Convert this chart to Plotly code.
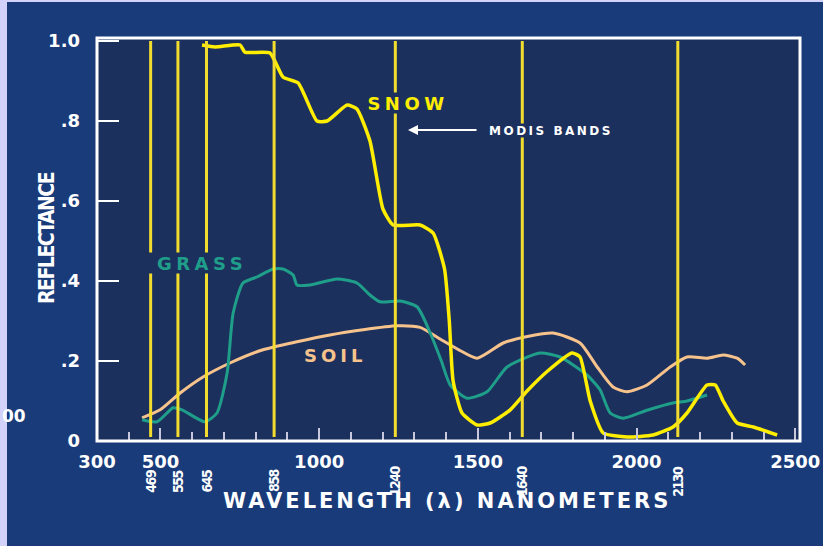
import plotly.graph_objects as go

# MODIS band centres (nm)
band_nm = [469, 555, 645, 858, 1240, 1640, 2130]
band_labels = ["469", "555", "645", "858", "1240", "1640", "2130"]

# Spectral reflectance curves
snow_nm = [631, 672, 751, 766, 845, 886, 934, 993, 1025, 1088, 1119, 1160, 1201, 1233,
           1318, 1359, 1395, 1410, 1422, 1450, 1498, 1539, 1602, 1655, 1720, 1797, 1822,
           1854, 1895, 1970, 2052, 2115, 2159, 2222, 2248, 2273, 2317, 2368, 2443]
snow_r = [0.99, 0.985, 0.99, 0.972, 0.97, 0.91, 0.895, 0.80, 0.80, 0.84, 0.83, 0.75, 0.58, 0.54,
          0.54, 0.52, 0.43, 0.30, 0.15, 0.07, 0.04, 0.045, 0.078, 0.125, 0.175, 0.22, 0.21,
          0.10, 0.02, 0.01, 0.015, 0.035, 0.07, 0.14, 0.14, 0.10, 0.045, 0.035, 0.015]

grass_nm = [442, 489, 540, 568, 640, 678, 710, 729, 760, 804, 855, 886, 918, 930, 971, 1056,
            1119, 1160, 1192, 1255, 1309, 1350, 1385, 1413, 1466, 1529, 1592, 1696, 1759,
            1844, 1885, 1917, 1958, 2033, 2115, 2159, 2222]
grass_r = [0.053, 0.048, 0.083, 0.078, 0.048, 0.07, 0.17, 0.32, 0.395, 0.41, 0.43, 0.43, 0.415,
           0.39, 0.39, 0.405, 0.395, 0.365, 0.348, 0.35, 0.335, 0.27, 0.20, 0.14, 0.107, 0.123,
           0.185, 0.22, 0.21, 0.165, 0.128, 0.07, 0.057, 0.077, 0.095, 0.10, 0.115]

soil_nm = [442, 499, 562, 634, 719, 823, 930, 1034, 1138, 1245, 1318, 1381, 1440, 1498, 1580,
           1660, 1737, 1822, 1876, 1926, 1970, 2033, 2106, 2159, 2222, 2273, 2317, 2342]
soil_r = [0.058, 0.078, 0.12, 0.16, 0.195, 0.228, 0.248, 0.265, 0.278, 0.288, 0.284, 0.255,
          0.228, 0.207, 0.245, 0.262, 0.27, 0.245, 0.185, 0.135, 0.123, 0.14, 0.185, 0.21,
          0.207, 0.215, 0.207, 0.19]

x_tickvals = [300, 500, 1000, 1500, 2000, 2500]
y_tickvals = [0, 0.2, 0.4, 0.6, 0.8, 1.0]
y_ticktext = ["0", ".2", ".4", ".6", ".8", "1.0"]

PAGE_BG = "#193b7a"
PLOT_BG = "#1c305e"
BAND_YELLOW = "#f2dc2e"
SNOW_YELLOW = "#ffee00"
GRASS_TEAL = "#1f9e8a"
SOIL_PEACH = "#f7c38c"
BOLD_FONT = "DejaVu Sans"
NARROW_FONT = "DejaVu Sans Condensed"


def spaced(text, px):
    """Wrap text in a span with adjusted letter spacing (wide display lettering)."""
    return f'<span style="letter-spacing:{px}px">{text}</span>'


fig = go.Figure()

fig.add_trace(go.Scatter(x=soil_nm, y=soil_r, mode="lines", name="SOIL",
                         line=dict(color=SOIL_PEACH, width=3, shape="spline", smoothing=0.6)))
fig.add_trace(go.Scatter(x=grass_nm, y=grass_r, mode="lines", name="GRASS",
                         line=dict(color=GRASS_TEAL, width=3, shape="spline", smoothing=0.6)))
fig.add_trace(go.Scatter(x=snow_nm, y=snow_r, mode="lines", name="SNOW",
                         line=dict(color=SNOW_YELLOW, width=3.5, shape="spline", smoothing=0.5)))

shapes = []
# MODIS band markers
for b in band_nm:
    shapes.append(dict(type="line", xref="x", yref="y", x0=b, x1=b, y0=0.01, y1=1.0,
                       line=dict(color=BAND_YELLOW, width=3), layer="above"))
# plot frame
shapes.append(dict(type="rect", xref="paper", yref="paper", x0=0, x1=1, y0=0, y1=1,
                   line=dict(color="white", width=3), layer="above"))
# light edge strips of the page
W, H = 823, 546
L, R, T, B = 97, 23, 38, 105
pw, ph = W - L - R, H - T - B


def px_x(p):
    return (p - L) / pw


def px_y(p):
    return (H - B - p) / ph


shapes.append(dict(type="rect", xref="paper", yref="paper", x0=px_x(0), x1=px_x(7),
                   y0=px_y(H), y1=px_y(0), fillcolor="#d2d2fa", line=dict(width=0), layer="below"))
shapes.append(dict(type="rect", xref="paper", yref="paper", x0=px_x(0), x1=px_x(W),
                   y0=px_y(2), y1=px_y(0), fillcolor="#d2d2fa", line=dict(width=0), layer="below"))

annotations = []
for b, lab in zip(band_nm, band_labels):
    annotations.append(dict(x=b, xref="x", y=px_y(481), yref="paper", text=spaced(lab, -1.5),
                            textangle=-90, showarrow=False, xanchor="center", yanchor="middle",
                            font=dict(family=NARROW_FONT, size=14, color="white", weight="bold")))

annotations += [
    dict(x=1280, y=0.845, xref="x", yref="y", text=spaced("SNOW", 4.5), showarrow=False,
         font=dict(family=BOLD_FONT, size=18, color=SNOW_YELLOW, weight="bold"),
         bgcolor=PLOT_BG, borderpad=0, width=92, height=20),
    dict(x=630, y=0.445, xref="x", yref="y", text=spaced("GRASS", 4.5), showarrow=False,
         font=dict(family=BOLD_FONT, size=18, color=GRASS_TEAL, weight="bold"),
         bgcolor=PLOT_BG, borderpad=0, width=112, height=20),
    dict(x=1050, y=0.215, xref="x", yref="y", text=spaced("SOIL", 4), showarrow=False,
         font=dict(family=BOLD_FONT, size=18, color=SOIL_PEACH, weight="bold")),
    dict(x=1532, y=0.7775, xref="x", yref="y", text=spaced("MODIS BANDS", 2.5),
         showarrow=False, xanchor="left",
         font=dict(family=BOLD_FONT, size=12, color="white", weight="bold"),
         bgcolor=PLOT_BG, borderpad=0, height=13),
    dict(x=1280, y=0.7775, xref="x", yref="y", text="", showarrow=True, ax=70, ay=0,
         arrowhead=2, arrowsize=1, arrowwidth=2, arrowcolor="white"),
    dict(x=px_x(447), y=px_y(515), xref="paper", yref="paper",
         text=spaced("WAVELENGTH (λ) NANOMETERS", 3), showarrow=False,
         font=dict(family=BOLD_FONT, size=21, color="white", weight="bold")),
    dict(x=px_x(33), y=px_y(238), xref="paper", yref="paper",
         text=spaced("REFLECTANCE", -1.5), textangle=-90, showarrow=False,
         font=dict(family=NARROW_FONT, size=21, color="white", weight="bold")),
    dict(x=px_x(28), y=px_y(428), xref="paper", yref="paper", text="00",
         xanchor="right", showarrow=False,
         font=dict(family=BOLD_FONT, size=17, color="white", weight="bold")),
]

fig.update_layout(
    width=W, height=H,
    margin=dict(l=L, r=R, t=T, b=B),
    paper_bgcolor=PAGE_BG,
    plot_bgcolor=PLOT_BG,
    showlegend=False,
    shapes=shapes,
    annotations=annotations,
)

fig.update_xaxes(
    range=[300, 2515], showgrid=False, zeroline=False, showline=False, automargin=False,
    tickvals=x_tickvals, ticktext=[str(v) for v in x_tickvals],
    ticks="inside", ticklen=13, tickwidth=2, tickcolor="#c8c8dc",
    ticklabelstandoff=8,
    tickfont=dict(family=BOLD_FONT, size=18, color="white", weight="bold"),
    minor=dict(dtick=100, tick0=300, ticks="inside", ticklen=9, tickwidth=2,
               tickcolor="#c8c8dc", showgrid=False),
)
fig.update_yaxes(
    range=[0, 1.0075], showgrid=False, zeroline=False, showline=False, automargin=False,
    tickvals=y_tickvals, ticktext=y_ticktext,
    ticks="inside", ticklen=22, tickwidth=2, tickcolor="white",
    ticklabelstandoff=16,
    tickfont=dict(family=BOLD_FONT, size=18, color="white", weight="bold"),
)

fig.write_html("out.html")
